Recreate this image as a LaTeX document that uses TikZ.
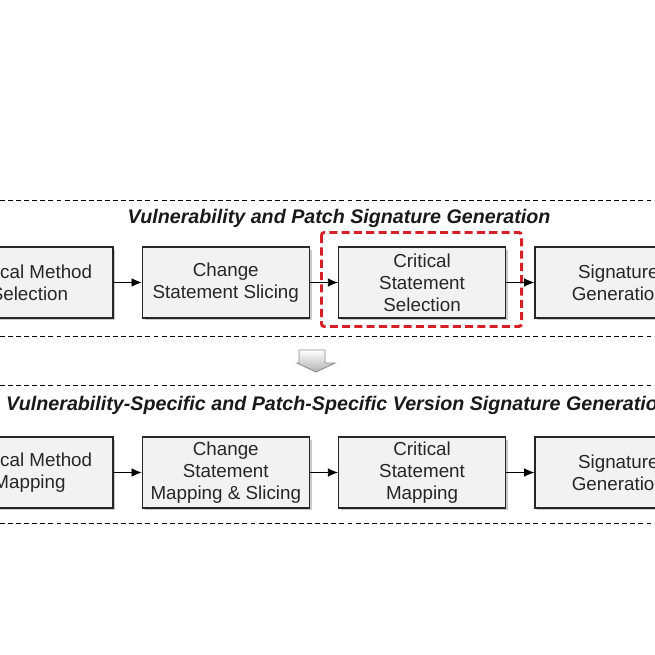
\documentclass[tikz,border=0pt]{standalone}
\usepackage{fontspec}
\setmainfont{Liberation Sans}
\usepackage{tikz}
\usetikzlibrary{arrows.meta,shapes,positioning,shadows}
\definecolor{boxgray}{RGB}{242,242,242}
\definecolor{focusred}{RGB}{214,32,40}
\tikzset{
  stage/.style  = {draw=black!85, line width=0.75pt, fill=boxgray, rectangle,
                   minimum width=3.34cm, minimum height=1.42cm, inner sep=0pt,
                   align=center, text=black!85,
                   font=\fontsize{10.7}{12.5}\selectfont,
                   drop shadow={shadow xshift=0.05cm, shadow yshift=-0.05cm,
                                opacity=0.35, fill=black!60}},
  title/.style  = {font=\fontsize{11.2}{13}\selectfont\bfseries\itshape,
                   text=black!90, inner sep=0pt},
  band/.style   = {line width=0.55pt, dash pattern=on 2.8pt off 1.8pt},
  focus/.style  = {draw=focusred, line width=1.7pt, rounded corners=1.5pt,
                   dash pattern=on 4.6pt off 2.4pt}
}

\begin{document}
\begin{tikzpicture}[x=0.02cm, y=-0.02cm, >={Latex[length=2mm,width=1.7mm]}]

\useasboundingbox (0,0) rectangle (655,655);
\clip (0,0) rectangle (655,655);

% band borders
\draw[band] (0,200) -- (655,200);
\draw[band] (0,336) -- (655,336);
\draw[band] (0,385) -- (655,385);
\draw[band] (0,523) -- (655,523);

% first band, signature generation
\node[title] (t1) at (339,218) {Vulnerability and Patch Signature Generation};

\node[stage] (m1) at (29.5,282.5) {Critical Method\\Selection};
\node[stage, right=28*0.02cm of m1] (s1) {Change\\Statement Slicing};
\node[stage, right=28*0.02cm of s1] (c1) {Critical\\Statement\\Selection};
\node[stage, right=28*0.02cm of c1] (g1) {Signature\\Generation};

% the highlighted step
\draw[focus] (321.5,232.5) rectangle (521.5,326.5);

\draw[->] (m1) -- (s1);
\draw[->] (s1) -- (c1);
\draw[->] (c1) -- (g1);

% gray flow arrow between the bands
\draw[draw=black!45, line width=0.5pt, top color=white, bottom color=black!30]
  (299,350) -- (325,350) -- (325,363) -- (335,363) -- (316,372)
  -- (297,363) -- (299,363) -- cycle;

% second band, version signature generation
\node[title] (t2) at (338,405) {Vulnerability-Specific and Patch-Specific Version Signature Generation};

\node[stage] (m2) at (29.5,472.5) {Critical Method\\Mapping};
\node[stage, right=28*0.02cm of m2] (s2) {Change\\Statement\\Mapping \& Slicing};
\node[stage, right=28*0.02cm of s2] (c2) {Critical\\Statement\\Mapping};
\node[stage, right=28*0.02cm of c2] (g2) {Signature\\Generation};

\draw[->] (m2) -- (s2);
\draw[->] (s2) -- (c2);
\draw[->] (c2) -- (g2);

\end{tikzpicture}
\end{document}
